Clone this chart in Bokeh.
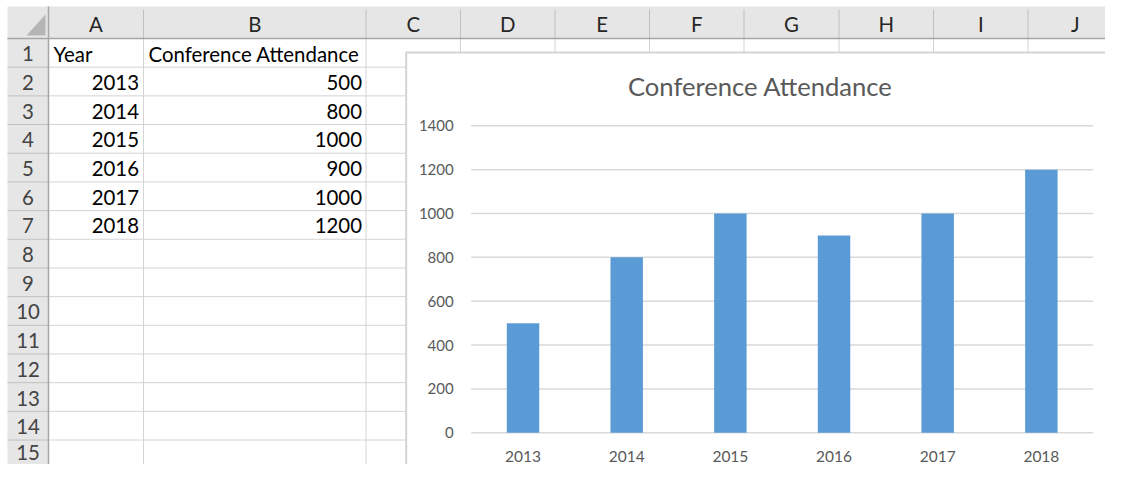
from bokeh.plotting import figure
from bokeh.models import Range1d
from bokeh.core.properties import value
from bokeh.embed import file_html
from bokeh.resources import INLINE

# ---------------- data ----------------
years = ["2013", "2014", "2015", "2016", "2017", "2018"]
attendance = [500, 800, 1000, 900, 1000, 1200]
y_ticks = [0, 200, 400, 600, 800, 1000, 1200, 1400]
col_letters = ["A", "B", "C", "D", "E", "F", "G", "H", "I", "J"]
row_numbers = list(range(1, 16))
header_a = "Year"
header_b = "Conference Attendance"
chart_title = "Conference Attendance"

# ---------------- layout (pixel coordinates of the picture) ----------------
W, H = 1105, 464
PX0, PY0 = 0, 0
PX1, PY1 = PX0 + W, PY0 + H
FONT = "Lato"
CELL_FS = "20.4px"

rh_left, rh_right = 7, 48
col_edges = [48, 143, 365.5, 460, 554.5, 649, 743.5, 838.5, 933, 1027.5, 1122]
hdr_top, hdr_bot = 6, 38
row_h = 28.68
row_edges = [hdr_bot + i * row_h for i in range(len(row_numbers) + 2)]

chart_l, chart_r, chart_t, chart_b = 405.7, 1114, 52, 477
plot_l, plot_r, plot_t, plot_b = 470.7, 1092.7, 125.3, 432.3

p = figure(width=W, height=H, x_range=Range1d(PX0, PX1), y_range=Range1d(PY1, PY0),
           output_backend="svg", toolbar_location=None, min_border=0,
           x_axis_type=None, y_axis_type=None, outline_line_color=None,
           background_fill_color="white", border_fill_color="white")
p.grid.visible = False

# chart scales mapped onto the frame
ncat = len(years)
ymax = y_ticks[-1]
ppc = (plot_r - plot_l) / ncat
ppu = (plot_b - plot_t) / ymax
p.extra_x_ranges = {"cx": Range1d(start=(PX0 - plot_l) / ppc, end=(PX1 - plot_l) / ppc)}
p.extra_y_ranges = {"cy": Range1d(start=-(PY1 - plot_b) / ppu, end=(plot_b - PY0) / ppu)}

BOT = PY1 + 20
# ---------------- spreadsheet ----------------
p.quad(left=[rh_left], right=[col_edges[-1]], top=[hdr_top], bottom=[hdr_bot],
       fill_color="#e6e6e6", line_color=None)
p.quad(left=[rh_left], right=[rh_right], top=[hdr_bot], bottom=[BOT],
       fill_color="#e6e6e6", line_color=None)
p.quad(left=[rh_left], right=[rh_right], top=[row_edges[15]], bottom=[BOT],
       fill_color="#d2d2d2", line_color=None)

p.segment(x0=col_edges, x1=col_edges, y0=[hdr_bot] * len(col_edges), y1=[BOT] * len(col_edges),
          line_color="#d4d4d4", line_width=1)
p.segment(x0=[rh_right] * len(row_edges), x1=[col_edges[-1]] * len(row_edges),
          y0=row_edges, y1=row_edges, line_color="#d4d4d4", line_width=1)
p.segment(x0=col_edges, x1=col_edges, y0=[hdr_top + 3] * len(col_edges), y1=[hdr_bot] * len(col_edges),
          line_color="#c0c0c0", line_width=1)
p.segment(x0=[rh_left] * len(row_edges), x1=[rh_right] * len(row_edges),
          y0=row_edges, y1=row_edges, line_color="#c0c0c0", line_width=1)
p.segment(x0=[rh_left], x1=[col_edges[-1]], y0=[hdr_bot], y1=[hdr_bot], line_color="#a6a6a6", line_width=1.5)
p.segment(x0=[rh_right], x1=[rh_right], y0=[hdr_top], y1=[BOT], line_color="#a6a6a6", line_width=1.5)
p.patch(x=[26, 45, 45], y=[35, 35, 14], fill_color="#b5b5b5", line_color=None)
p.segment(x0=[rh_right + 0.5], x1=[rh_right + 0.5], y0=[row_edges[15]], y1=[BOT],
          line_color="#217346", line_width=2)

col_cx = [(col_edges[i] + col_edges[i + 1]) / 2 for i in range(len(col_letters))]
p.text(x=col_cx, y=[(hdr_top + hdr_bot) / 2 + 1] * len(col_letters), text=col_letters,
       text_font=value(FONT), text_font_size=value(CELL_FS), text_color="#262626",
       text_align="center", text_baseline="middle")
row_cy = [(row_edges[i] + row_edges[i + 1]) / 2 + 1 for i in range(len(row_numbers))]
# keep the last row label fully inside the picture
row_label_y = [min(y, PY1 - 12.5) for y in row_cy]
p.text(x=[(rh_left + rh_right) / 2] * len(row_numbers), y=row_label_y, text=[str(r) for r in row_numbers],
       text_font=value(FONT), text_font_size=value(CELL_FS), text_color="#444444",
       text_align="center", text_baseline="middle")

p.text(x=[col_edges[0] + 5, col_edges[1] + 5], y=[row_cy[0]] * 2, text=[header_a, header_b],
       text_font=value(FONT), text_font_size=value(CELL_FS), text_color="#000000",
       text_align="left", text_baseline="middle")
p.text(x=[col_edges[1] - 4.5] * len(years), y=row_cy[1:1 + len(years)], text=years,
       text_font=value(FONT), text_font_size=value(CELL_FS), text_color="#000000",
       text_align="right", text_baseline="middle")
p.text(x=[col_edges[2] - 4] * len(attendance), y=row_cy[1:1 + len(attendance)],
       text=[str(v) for v in attendance],
       text_font=value(FONT), text_font_size=value(CELL_FS), text_color="#000000",
       text_align="right", text_baseline="middle")

# ---------------- chart ----------------
p.quad(left=[chart_l], right=[chart_r], top=[chart_t], bottom=[chart_b],
       fill_color="white", line_color="#d4d4d4", line_width=2)
p.text(x=[(chart_l + chart_r) / 2], y=[85], text=[chart_title],
       text_font=value(FONT), text_font_size=value("25.6px"), text_color="#595959",
       text_align="center", text_baseline="middle")

p.segment(x0=[0] * len(y_ticks), x1=[ncat] * len(y_ticks), y0=y_ticks, y1=y_ticks,
          x_range_name="cx", y_range_name="cy", line_color="#d9d9d9", line_width=1.5)
xs = [i + 0.5 for i in range(ncat)]
p.vbar(x=xs, top=attendance, bottom=0, width=0.313, x_range_name="cx", y_range_name="cy",
       fill_color="#5b9bd5", line_color=None)

p.text(x=[plot_l - 17.5] * len(y_ticks), y=y_ticks, text=[str(t) for t in y_ticks],
       y_range_name="cy", text_font=value(FONT), text_font_size=value("15px"),
       text_color="#595959", text_align="right", text_baseline="middle")
p.text(x=xs, y=[456] * ncat, text=years, x_range_name="cx",
       text_font=value(FONT), text_font_size=value("15.5px"), text_color="#595959",
       text_align="center", text_baseline="middle")

open("out.html", "w").write(file_html(p, INLINE))
